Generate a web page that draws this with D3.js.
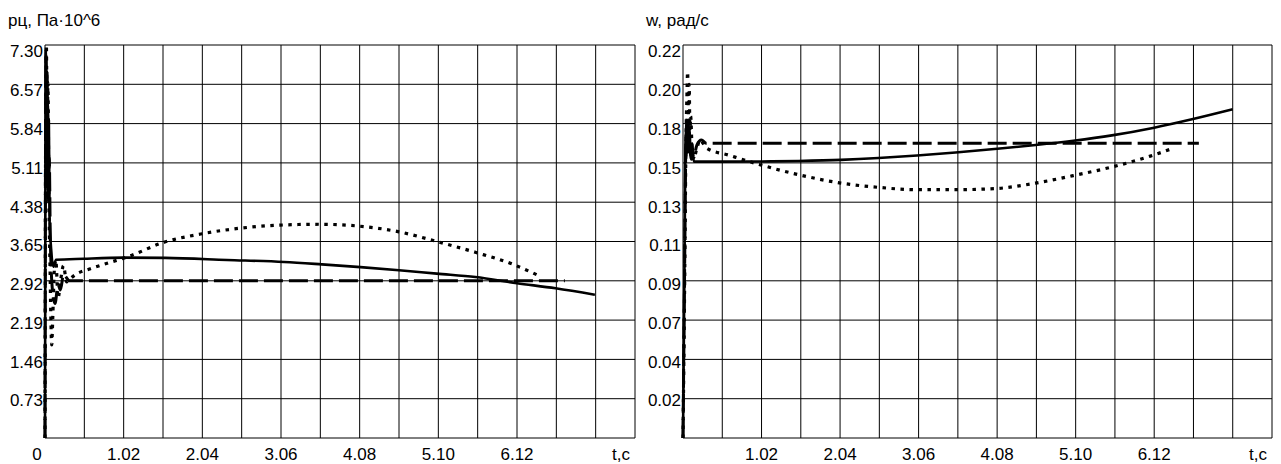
<!DOCTYPE html>
<html>
<head>
<meta charset="utf-8">
<script src="https://cdn.jsdelivr.net/npm/d3@7"></script>
<style>
  body { margin: 0; background: #fff; }
  svg { display: block; font-family: "Liberation Sans", Arial, sans-serif; }
  .lbl { font-size: 17px; fill: #000; }
</style>
</head>
<body>
<div id="chart"></div>
<script>
// time axis: grid every 0.51 s, 15 cells
const timeStep = 0.51;
const timeCells = 15;
const timeTicks = [1.02, 2.04, 3.06, 4.08, 5.10, 6.12];

const pressureTicks = [0.73, 1.46, 2.19, 2.92, 3.65, 4.38, 5.11, 5.84, 6.57, 7.30];
const speedTicks = [0.022, 0.044, 0.066, 0.088, 0.110, 0.132, 0.154, 0.176, 0.198, 0.220];

// pressure рц, [t, value]
const pressureSolid = [[0, 0], [0.004, 3.5], [0.01, 7.2], [0.02, 5.2], [0.03, 6.8], [0.04, 4.6],
    [0.05, 5.9], [0.06, 4.0], [0.075, 3.6], [0.108, 3.18], [0.143, 3.31], [0.5, 3.33], [1.02, 3.35],
    [1.56, 3.345], [2.36, 3.307], [3.10, 3.27], [3.59, 3.225], [4.09, 3.174], [4.59, 3.117],
    [5.08, 3.053], [5.58, 2.99], [6.12, 2.876], [6.62, 2.78], [7.13, 2.66]];
const pressureDashed = [[0, 0], [0.006, 5.0], [0.015, 7.1], [0.025, 5.0], [0.035, 6.3], [0.045, 4.4],
    [0.055, 5.2], [0.07, 3.6], [0.1, 2.7], [0.13, 2.5], [0.17, 2.85], [0.2, 2.75], [0.24, 3.03],
    [0.32, 2.92], [6.74, 2.92]];
const pressureDotted = [[0, 0], [0.008, 5.5], [0.018, 7.3], [0.028, 5.5], [0.038, 6.6], [0.05, 4.5],
    [0.065, 3.2], [0.075, 2.3], [0.087, 1.73], [0.1, 2.2], [0.12, 3.1], [0.14, 3.3], [0.17, 2.6],
    [0.2, 2.9], [0.24, 3.2], [0.28, 2.9], [0.32, 2.95], [0.39, 3.03], [0.58, 3.14], [0.84, 3.26],
    [1.10, 3.38], [1.51, 3.62], [2.06, 3.80], [2.55, 3.90], [3.05, 3.955], [3.57, 3.97], [4.04, 3.94],
    [4.59, 3.83], [5.08, 3.65], [5.58, 3.45], [6.07, 3.225], [6.38, 3.03]];

// angular speed w, [t, value]
const speedSolid = [[0, 0], [0.02, 0.10], [0.035, 0.17], [0.045, 0.158], [0.055, 0.178], [0.07, 0.16],
    [0.085, 0.172], [0.1, 0.158], [0.12, 0.165], [0.14, 0.1547], [0.5, 0.1547], [1.0, 0.1548],
    [1.5, 0.1551], [2.05, 0.1557], [2.54, 0.1567], [3.04, 0.1581], [3.54, 0.1598], [4.08, 0.1619],
    [4.58, 0.1640], [5.07, 0.1664], [5.57, 0.1694], [6.12, 0.1737], [6.61, 0.1784], [7.14, 0.1840]];
const speedDashed = [[0, 0], [0.02, 0.09], [0.04, 0.17], [0.06, 0.18], [0.08, 0.168], [0.11, 0.156],
    [0.14, 0.157], [0.18, 0.164], [0.24, 0.1668], [0.3, 0.165], [6.7, 0.165]];
const speedDotted = [[0, 0], [0.02, 0.08], [0.04, 0.17], [0.05, 0.19], [0.06, 0.205], [0.07, 0.18],
    [0.08, 0.198], [0.09, 0.172], [0.1, 0.18], [0.12, 0.16], [0.14, 0.157], [0.18, 0.162],
    [0.22, 0.167], [0.26, 0.165], [0.31, 0.1622], [0.59, 0.1584], [1.0, 0.153], [1.55, 0.1469],
    [2.05, 0.1427], [2.54, 0.1403], [3.04, 0.139], [3.54, 0.139], [4.08, 0.1397], [4.58, 0.1427],
    [5.07, 0.1469], [5.57, 0.1517], [6.07, 0.1578], [6.32, 0.1615]];

const width = 1281, height = 464;
const plotTop = 45, plotBottom = 438;

const svg = d3.select('#chart').append('svg')
    .attr('width', width)
    .attr('height', height);

svg.append('rect').attr('width', width).attr('height', height).attr('fill', '#fff');

function drawPanel(p) {
    const x = d3.scaleLinear().domain([0, timeCells * timeStep]).range([p.left, p.right]);
    const y = d3.scaleLinear().domain([0, p.ticks[p.ticks.length - 1]]).range([plotBottom, plotTop]);
    // labels sit a little tighter than the grid
    const yLab = d3.scaleLinear().domain([p.ticks[0], p.ticks[p.ticks.length - 1]]).range([400.5, 51.5]);

    const g = svg.append('g');

    g.selectAll('.vgrid')
        .data(d3.range(timeCells + 1).map(i => i * timeStep))
        .join('line')
        .attr('x1', d => x(d)).attr('x2', d => x(d))
        .attr('y1', plotTop).attr('y2', plotBottom)
        .attr('stroke', '#000').attr('stroke-width', 1);

    g.selectAll('.hgrid')
        .data([0, ...p.ticks])
        .join('line')
        .attr('x1', p.left).attr('x2', p.right)
        .attr('y1', d => y(d)).attr('y2', d => y(d))
        .attr('stroke', '#000').attr('stroke-width', 1);

    g.selectAll('.ylab')
        .data(p.ticks)
        .join('text')
        .attr('class', 'lbl')
        .attr('x', p.left - 2)
        .attr('y', d => yLab(d))
        .attr('dy', '0.35em')
        .attr('text-anchor', 'end')
        .text(d => d.toFixed(2));

    g.selectAll('.xlab')
        .data(timeTicks)
        .join('text')
        .attr('class', 'lbl')
        .attr('x', d => x(d))
        .attr('y', 460)
        .attr('text-anchor', 'middle')
        .text(d => d.toFixed(2));

    if (p.showZero) {
        g.append('text').attr('class', 'lbl')
            .attr('x', x(0) - 8).attr('y', 460)
            .attr('text-anchor', 'middle')
            .text('0');
    }

    g.append('text').attr('class', 'lbl')
        .attr('x', p.right - 5).attr('y', 460)
        .attr('text-anchor', 'end')
        .text('t,c');

    g.append('text').attr('class', 'lbl')
        .attr('x', p.titleX).attr('y', 26)
        .text(p.title);

    const line = d3.line()
        .x(d => x(d[0])).y(d => y(d[1]))
        .curve(d3.curveMonotoneX);

    g.append('path').datum(p.dotted)
        .attr('d', line).attr('fill', 'none')
        .attr('stroke', '#000').attr('stroke-width', 3.2)
        .attr('stroke-dasharray', '3.5,5.5');

    g.append('path').datum(p.dashed)
        .attr('d', line).attr('fill', 'none')
        .attr('stroke', '#000').attr('stroke-width', 3)
        .attr('stroke-dasharray', '19,6');

    g.append('path').datum(p.solid)
        .attr('d', line).attr('fill', 'none')
        .attr('stroke', '#000').attr('stroke-width', 2.6)
        .attr('stroke-linejoin', 'round');
}

drawPanel({
    left: 45, right: 635, ticks: pressureTicks, showZero: true,
    title: 'рц, Па·10^6', titleX: 8,
    solid: pressureSolid, dashed: pressureDashed, dotted: pressureDotted
});

drawPanel({
    left: 683, right: 1272, ticks: speedTicks, showZero: false,
    title: 'w, рад/с', titleX: 646,
    solid: speedSolid, dashed: speedDashed, dotted: speedDotted
});
</script>
</body>
</html>
